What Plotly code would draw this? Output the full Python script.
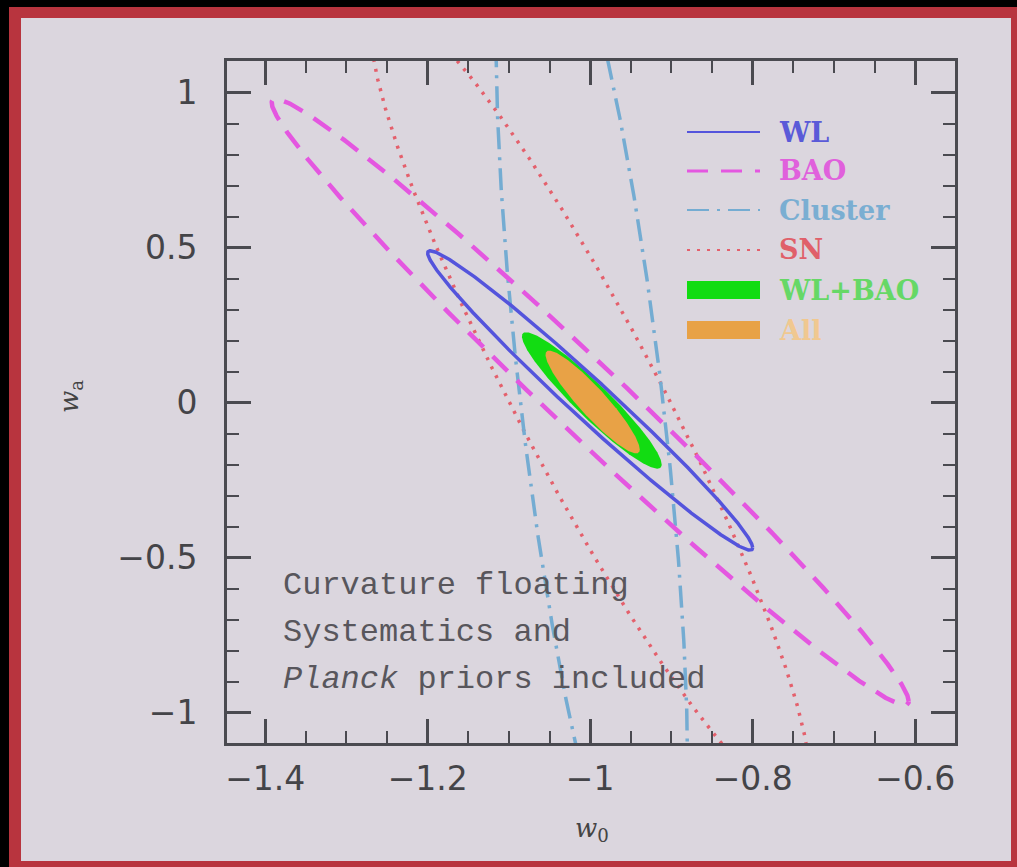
import numpy as np
import plotly.graph_objects as go

# ---- data: Fisher-forecast 68% contours in (w0, wa) ----
probes    = ["WL", "BAO", "Cluster", "SN", "WL+BAO", "All"]
center_w0 = [-1.000, -1.000, -0.998, -1.000, -0.998, -0.997]
center_wa = [0.008, 0.003, 0.000, 0.000, 0.008, 0.003]
half_w0   = [0.200, 0.392, 0.118, 0.270, 0.086, 0.058]   # half extent of contour along w0
half_wa   = [0.483, 0.978, 1.780, 1.290, 0.220, 0.166]   # half extent of contour along wa
corr      = [-0.984, -0.987, -0.668, -0.930, -0.940, -0.921]

x_ticks = [-1.4, -1.2, -1.0, -0.8, -0.6]
y_ticks = [-1.0, -0.5, 0.0, 0.5, 1.0]
note_lines = ["Curvature floating", "Systematics and", "<i>Planck</i> priors included"]

W, H = 1017, 867
L, R, T, B = 227, 955, 61, 743   # plot area in pixels


def contour(i, n=721):
    t = np.linspace(0, 2 * np.pi, n)
    r = corr[i]
    x = center_w0[i] + half_w0[i] * np.cos(t)
    y = center_wa[i] + half_wa[i] * (r * np.cos(t) + np.sqrt(1 - r * r) * np.sin(t))
    return x, y


styles = {
    "WL": dict(color="#5454dc", width=3.5, dash="solid"),
    "BAO": dict(color="#e457e0", width=4.5, dash="21px,13px"),
    "Cluster": dict(color="#74acd2", width=3.5, dash="22px,8px,3px,8px"),
    "SN": dict(color="#e4606c", width=3.5, dash="3px,7px"),
}
fills = {"WL+BAO": "#12dc12", "All": "#e8a246"}
text_colors = {"WL": "#5a5ad8", "BAO": "#e060dc", "Cluster": "#7aaed2",
               "SN": "#e0606a", "WL+BAO": "#66d866", "All": "#f0c890"}

fig = go.Figure()
for name in ["WL+BAO", "All"]:
    i = probes.index(name)
    x, y = contour(i)
    fig.add_trace(go.Scatter(x=x, y=y, mode="lines", fill="toself",
                             fillcolor=fills[name], line=dict(width=0, color=fills[name]),
                             name=name, showlegend=False, hoverinfo="skip"))
for name in ["SN", "Cluster", "BAO", "WL"]:
    i = probes.index(name)
    x, y = contour(i)
    fig.add_trace(go.Scatter(x=x, y=y, mode="lines", line=styles[name],
                             name=name, showlegend=False, hoverinfo="skip"))


def px(xpix):
    return (xpix - L) / (R - L)


def py(ypix):
    return (B - ypix) / (B - T)


shapes = []
# slide frame: black edge + red border
shapes.append(dict(type="rect", xref="paper", yref="paper", x0=px(0), x1=px(W), y0=py(H), y1=py(0),
                   fillcolor="#000000", line=dict(width=0), layer="below"))
shapes.append(dict(type="rect", xref="paper", yref="paper", x0=px(9), x1=px(W), y0=py(H), y1=py(7),
                   fillcolor="#b8343e", line=dict(width=0), layer="below"))
shapes.append(dict(type="rect", xref="paper", yref="paper", x0=px(21), x1=px(1011), y0=py(861), y1=py(18),
                   fillcolor="#dbd6de", line=dict(width=0), layer="below"))

# legend samples
leg_y = {"WL": 132, "BAO": 171, "Cluster": 210, "SN": 250, "WL+BAO": 290, "All": 330}
for name in ["WL", "BAO", "Cluster", "SN"]:
    st = styles[name]
    shapes.append(dict(type="line", xref="paper", yref="paper", x0=px(687), x1=px(760),
                       y0=py(leg_y[name]), y1=py(leg_y[name]),
                       line=dict(color=st["color"], width=max(2, st["width"] - 1.5), dash=st["dash"])))
for name in ["WL+BAO", "All"]:
    shapes.append(dict(type="rect", xref="paper", yref="paper", x0=px(687), x1=px(760),
                       y0=py(leg_y[name] + 9), y1=py(leg_y[name] - 9),
                       fillcolor=fills[name], line=dict(width=0)))

annotations = []
for name in probes:
    annotations.append(dict(xref="paper", yref="paper", x=px(777), y=py(leg_y[name]),
                            xanchor="left", yanchor="middle", showarrow=False, text="<b>" + name + "</b>",
                            font=dict(family="DejaVu Serif", size=27, color=text_colors[name])))
for k, line in enumerate(note_lines):
    annotations.append(dict(xref="paper", yref="paper", x=px(281), y=py(585 + 47 * k),
                            xanchor="left", yanchor="middle", showarrow=False, text=line,
                            font=dict(family="Liberation Mono", size=32, color="#58565c")))
annotations.append(dict(xref="paper", yref="paper", x=px(592), y=py(830), xanchor="center",
                        yanchor="middle", showarrow=False, text="<i>w</i><sub>0</sub>",
                        font=dict(family="DejaVu Serif", size=26, color="#444444")))
annotations.append(dict(xref="paper", yref="paper", x=px(70), y=py(397), xanchor="center",
                        yanchor="middle", showarrow=False, text="<i>w</i><sub>a</sub>", textangle=-90,
                        font=dict(family="DejaVu Serif", size=26, color="#444444")))

axis_common = dict(showgrid=False, zeroline=False, showline=True, linewidth=3, linecolor="#4a4a50",
                   mirror="ticks", ticks="inside", ticklen=24, tickwidth=2.5, tickcolor="#4a4a50",
                   tickfont=dict(family="DejaVu Sans", size=33, color="#444448"))

fig.update_layout(
    width=W, height=H,
    margin=dict(l=L, r=W - R, t=T, b=H - B),
    paper_bgcolor="#dbd6de", plot_bgcolor="#dbd6de",
    shapes=shapes, annotations=annotations,
    xaxis=dict(range=[-1.447, -0.551], tickvals=x_ticks, ticklabelstandoff=4,
               minor=dict(dtick=0.05, tick0=-1.4, ticks="inside", ticklen=12, tickwidth=2,
                          tickcolor="#4a4a50"), **axis_common),
    yaxis=dict(range=[-1.097, 1.103], tickvals=y_ticks, ticklabelstandoff=20,
               minor=dict(dtick=0.1, tick0=0, ticks="inside", ticklen=12, tickwidth=2,
                          tickcolor="#4a4a50"), **axis_common),
)

fig.write_html("out.html")
